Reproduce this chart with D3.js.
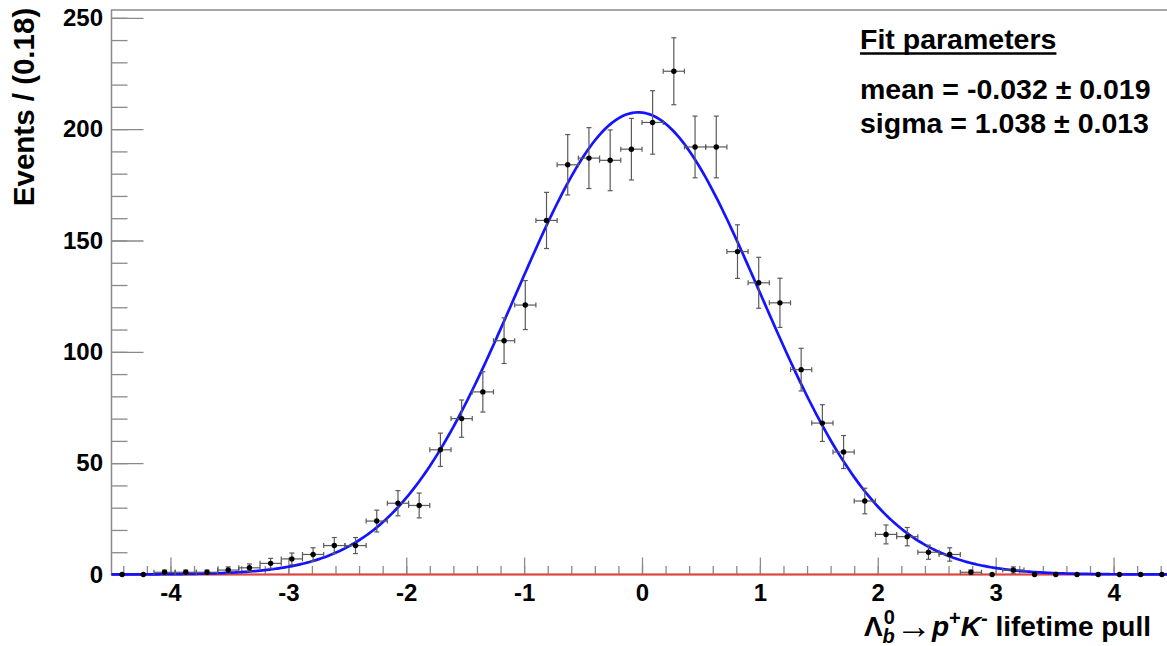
<!DOCTYPE html>
<html>
<head>
<meta charset="utf-8">
<script src="https://cdn.jsdelivr.net/npm/d3@7"></script>
<style>
    html, body { margin: 0; padding: 0; background: #fff; }
    text { font-family: "Liberation Sans", Arial, sans-serif; font-weight: bold; fill: #000; }
</style>
</head>
<body>
<svg id="chart" width="1167" height="646"></svg>
<script>
'use strict';

// histogram: 50 bins of 0.18 between -4.5 and 4.5
const binCenters = [
    -4.41, -4.23, -4.05, -3.87, -3.69, -3.51, -3.33, -3.15, -2.97, -2.79,
    -2.61, -2.43, -2.25, -2.07, -1.89, -1.71, -1.53, -1.35, -1.17, -0.99,
    -0.81, -0.63, -0.45, -0.27, -0.09, 0.09, 0.27, 0.45, 0.63, 0.81,
    0.99, 1.17, 1.35, 1.53, 1.71, 1.89, 2.07, 2.25, 2.43, 2.61,
    2.79, 2.97, 3.15, 3.33, 3.51, 3.69, 3.87, 4.05, 4.23, 4.41
];
const binCounts = [
    0, 0, 1, 1, 1, 2, 3, 5, 7, 9,
    13, 13, 24, 32, 31, 56, 70, 82, 105, 121,
    159, 184, 187, 186, 191, 203, 226, 192, 192, 145,
    131, 122, 92, 68, 55, 33, 18, 17, 10, 9,
    1, 0, 2, 0, 0, 0, 0, 0, 0, 0
];
const binWidth = 0.18;
const xDomain = [-4.5, 4.5];
const yDomain = [0, 253.5];

const xTickValues = [-4, -3, -2, -1, 0, 1, 2, 3, 4];
const yTickValues = [0, 50, 100, 150, 200, 250];

// gaussian fit result
const fitMean = -0.032;
const fitSigma = 1.038;
const fitEvents = 3000;
const fitTitle = 'Fit parameters';
const fitLines = ['mean = -0.032 \u00b1 0.019', 'sigma = 1.038 \u00b1 0.013'];

function PullPlot(selector) {
    this.svg = d3.select(selector);
    this.left = 111.5;
    this.right = 1172.5;
    this.top = 10;
    this.bottom = 574.5;
    this.axisColor = '#8a8a8a';
    this.x = d3.scaleLinear().domain(xDomain).range([this.left, this.right]);
    this.y = d3.scaleLinear().domain(yDomain).range([this.bottom, this.top]);
    return this;
}

PullPlot.prototype.drawAxes = function drawAxes() {
    const self = this;

    // frame
    self.svg.append('rect')
        .attr('x', self.left)
        .attr('y', self.top)
        .attr('width', self.right - self.left)
        .attr('height', self.bottom - self.top)
        .attr('fill', 'none')
        .attr('stroke', self.axisColor)
        .attr('stroke-width', 1.5);

    const yMinor = d3.range(0, 251, 10);
    const xMinor = d3.range(-4.4, 4.41, 0.2);

    function tickGroup(axis, transform) {
        const g = self.svg.append('g')
            .attr('transform', transform)
            .call(axis);
        g.select('.domain').remove();
        g.selectAll('.tick line').attr('stroke', self.axisColor).attr('stroke-width', 1.3);
        return g;
    }

    // y ticks point into the frame
    tickGroup(d3.axisRight(self.y).tickValues(yMinor).tickSize(16).tickFormat(''), `translate(${self.left},0)`);
    tickGroup(d3.axisRight(self.y).tickValues(yTickValues).tickSize(32).tickFormat(''), `translate(${self.left},0)`);

    const yLabels = self.svg.append('g')
        .attr('transform', `translate(${self.left},0)`)
        .call(d3.axisLeft(self.y).tickValues(yTickValues).tickSize(0).tickPadding(8.5).tickFormat((d) => String(d)));
    yLabels.select('.domain').remove();
    yLabels.selectAll('text')
        .attr('font-size', 24)
        .attr('font-family', null)
        .attr('fill', '#000');

    // x ticks point up
    tickGroup(d3.axisTop(self.x).tickValues(xMinor).tickSize(8.5).tickFormat(''), `translate(0,${self.bottom})`);
    tickGroup(d3.axisTop(self.x).tickValues(xTickValues).tickSize(17).tickFormat(''), `translate(0,${self.bottom})`);

    const xLabels = self.svg.append('g')
        .attr('transform', `translate(0,${self.bottom})`)
        .call(d3.axisBottom(self.x).tickValues(xTickValues).tickSize(0).tickPadding(9.5).tickFormat((d) => String(d)));
    xLabels.select('.domain').remove();
    xLabels.selectAll('text')
        .attr('font-size', 24)
        .attr('font-family', null)
        .attr('fill', '#000');
};

PullPlot.prototype.drawFit = function drawFit() {
    const self = this;

    // empty background component along zero
    self.svg.append('line')
        .attr('x1', self.x(xDomain[0]))
        .attr('x2', self.x(xDomain[1]))
        .attr('y1', self.y(0))
        .attr('y2', self.y(0))
        .attr('stroke', '#e8413c')
        .attr('stroke-width', 2.2);

    const norm = fitEvents * binWidth / (fitSigma * Math.sqrt(2 * Math.PI));
    const curve = d3.range(xDomain[0], xDomain[1] + 0.001, 0.02).map((v) => {
        const z = (v - fitMean) / fitSigma;
        return [v, norm * Math.exp(-0.5 * z * z)];
    });

    self.svg.append('path')
        .datum(curve)
        .attr('fill', 'none')
        .attr('stroke', '#1414ff')
        .attr('stroke-width', 2.7)
        .attr('d', d3.line()
            .x((d) => self.x(d[0]))
            .y((d) => self.y(d[1])));
};

PullPlot.prototype.drawData = function drawData() {
    const self = this;
    const points = binCenters.map((c, i) => ({ x: c, n: binCounts[i], err: Math.sqrt(binCounts[i]) }));
    const withErr = points.filter((d) => d.n > 0);
    const cap = 2.5;
    const barColor = '#5a5a5a';

    const bars = self.svg.append('g')
        .attr('stroke', barColor)
        .attr('stroke-width', 1.2);

    const bar = bars.selectAll('g.bar').data(withErr).enter().append('g').attr('class', 'bar');

    bar.append('line')
        .attr('x1', (d) => self.x(d.x - binWidth / 2))
        .attr('x2', (d) => self.x(d.x + binWidth / 2))
        .attr('y1', (d) => self.y(d.n))
        .attr('y2', (d) => self.y(d.n));
    bar.append('line')
        .attr('x1', (d) => self.x(d.x))
        .attr('x2', (d) => self.x(d.x))
        .attr('y1', (d) => self.y(d.n - d.err))
        .attr('y2', (d) => self.y(d.n + d.err));
    // small end caps
    [-1, 1].forEach((s) => {
        bar.append('line')
            .attr('x1', (d) => self.x(d.x) - cap)
            .attr('x2', (d) => self.x(d.x) + cap)
            .attr('y1', (d) => self.y(d.n + s * d.err))
            .attr('y2', (d) => self.y(d.n + s * d.err));
        bar.append('line')
            .attr('x1', (d) => self.x(d.x + s * binWidth / 2))
            .attr('x2', (d) => self.x(d.x + s * binWidth / 2))
            .attr('y1', (d) => self.y(d.n) - cap)
            .attr('y2', (d) => self.y(d.n) + cap);
    });

    self.svg.append('g').selectAll('circle')
        .data(points)
        .enter().append('circle')
        .attr('cx', (d) => self.x(d.x))
        .attr('cy', (d) => self.y(d.n))
        .attr('r', 2.7)
        .attr('fill', '#000');
};

PullPlot.prototype.drawText = function drawText() {
    const self = this;

    self.svg.append('text')
        .attr('transform', 'translate(34,107) rotate(-90)')
        .attr('text-anchor', 'middle')
        .attr('font-size', 29.5)
        .text('Events / (0.18)');

    // axis title: lambda with stacked b / 0, then the decay products
    const title = self.svg.append('text')
        .attr('x', 1151)
        .attr('y', 636)
        .attr('text-anchor', 'end')
        .attr('font-size', 28);
    title.append('tspan').text('\u039b');
    title.append('tspan').attr('font-size', 20).attr('font-style', 'italic').attr('dy', 7).text('b');
    title.append('tspan').attr('font-size', 20).attr('dx', -11).attr('dy', -19).text('0');
    title.append('tspan').attr('font-size', 36).attr('dx', 1).attr('dy', 14).text('\u2192');
    title.append('tspan').attr('font-style', 'italic').attr('dy', -2).text('p');
    title.append('tspan').attr('font-size', 20).attr('dy', -11).text('+');
    title.append('tspan').attr('font-style', 'italic').attr('dy', 11).text('K');
    title.append('tspan').attr('font-size', 20).attr('dy', -11).text('-');
    title.append('tspan').attr('dy', 11).text(' lifetime pull');

    const head = self.svg.append('text')
        .attr('x', 860)
        .attr('y', 49)
        .attr('font-size', 28.5)
        .text(fitTitle);
    const headWidth = head.node().getComputedTextLength();
    self.svg.append('line')
        .attr('x1', 860)
        .attr('x2', 860 + headWidth)
        .attr('y1', 53.5)
        .attr('y2', 53.5)
        .attr('stroke', '#000')
        .attr('stroke-width', 2.5);

    self.svg.selectAll('text.fitline')
        .data(fitLines)
        .enter().append('text')
        .attr('class', 'fitline')
        .attr('x', 860)
        .attr('y', (d, i) => 99 + i * 34)
        .attr('font-size', 28.5)
        .text((d) => d);
};

const plot = new PullPlot('#chart');
plot.drawAxes();
plot.drawFit();
plot.drawData();
plot.drawText();
</script>
</body>
</html>
